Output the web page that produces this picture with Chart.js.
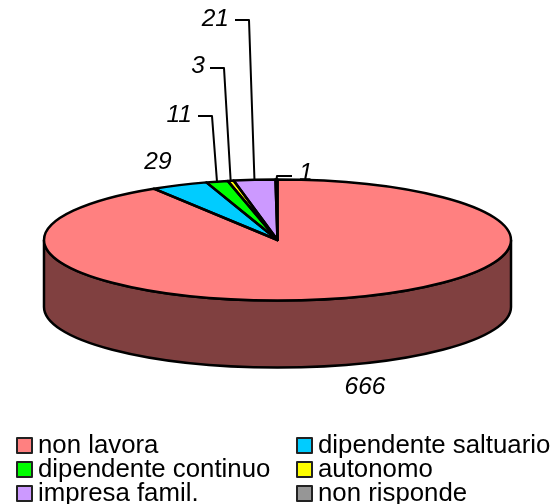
<!DOCTYPE html>
<html>
<head>
<meta charset="utf-8">
<script src="https://cdn.jsdelivr.net/npm/chart.js@4"></script>
<style>
body { margin: 0; background: #fff; }
canvas { display: block; }
</style>
</head>
<body>
<canvas id="torta" width="551" height="504"></canvas>
<script>
const categorie = ['non lavora', 'dipendente saltuario', 'dipendente continuo', 'autonomo', 'impresa famil.', 'non risponde'];
const valori = [666, 29, 11, 3, 21, 1];
const colori = ['#FF8080', '#00CCFF', '#00FF00', '#FFFF00', '#CC99FF', '#969696'];
const coloriScuri = ['#804040', '#006680', '#008000', '#808000', '#664D80', '#4B4B4B'];

// vista 3D: ellisse schiacciata + spessore
const schiacciamento = 60.5 / 233.5;
const centroY = 240;
const spessore = 67;

// posizione delle etichette e gomito delle linee guida
const etichette = [
    { x: 365, y: 387, align: 'center' },
    { x: 158, y: 162, align: 'center' },
    { x: 192, y: 115, align: 'right', gomito: [212, 116], fine: 198 },
    { x: 205, y: 66, align: 'right', gomito: [224, 68], fine: 210 },
    { x: 229, y: 19, align: 'right', gomito: [249, 20], fine: 235 },
    { x: 299, y: 173, align: 'left', gomito: [277, 176], fine: 292 }
];

const nero = '#000';

function bordoFetta(ctx, arc, yc) {
    ctx.beginPath();
    ctx.moveTo(arc.x, yc);
    ctx.ellipse(arc.x, yc, arc.outerRadius, arc.outerRadius * schiacciamento, 0, arc.startAngle, arc.endAngle);
    ctx.closePath();
}

const vista3d = {
    id: 'vista3d',
    beforeDatasetDraw(chart, args) {
        const ctx = chart.ctx;
        const fette = args.meta.data;
        // parete laterale, solo la meta' davanti
        fette.forEach((arc, i) => {
            const a0 = Math.max(arc.startAngle, 0);
            const a1 = Math.min(arc.endAngle, Math.PI);
            if (a1 <= a0) return;
            const r = arc.outerRadius;
            const ry = r * schiacciamento;
            ctx.beginPath();
            ctx.ellipse(arc.x, centroY, r, ry, 0, a0, a1);
            ctx.ellipse(arc.x, centroY + spessore, r, ry, 0, a1, a0, true);
            ctx.closePath();
            ctx.fillStyle = coloriScuri[i];
            ctx.fill();
            ctx.lineWidth = 2.5;
            ctx.strokeStyle = nero;
            ctx.stroke();
        });
        ctx.save();
        ctx.translate(0, centroY);
        ctx.scale(1, schiacciamento);
        ctx.translate(0, -fette[0].y);
    },
    afterDatasetDraw(chart, args) {
        const ctx = chart.ctx;
        ctx.restore();
        ctx.lineWidth = 2.5;
        ctx.strokeStyle = nero;
        ctx.lineJoin = 'round';
        args.meta.data.forEach(arc => {
            bordoFetta(ctx, arc, centroY);
            ctx.stroke();
        });
    },
    afterDraw(chart) {
        const ctx = chart.ctx;
        const fette = chart.getDatasetMeta(0).data;

        // etichette dei valori con linee guida
        ctx.font = 'italic 24.5px "Liberation Sans"';
        ctx.textBaseline = 'middle';
        ctx.fillStyle = nero;
        ctx.strokeStyle = nero;
        ctx.lineWidth = 2;
        etichette.forEach((e, i) => {
            ctx.textAlign = e.align;
            ctx.fillText(String(valori[i]), e.x, e.y);
            if (!e.gomito) return;
            const arc = fette[i];
            const medio = (arc.startAngle + arc.endAngle) / 2;
            const px = arc.x + arc.outerRadius * Math.cos(medio);
            const py = centroY + arc.outerRadius * schiacciamento * Math.sin(medio);
            ctx.beginPath();
            ctx.moveTo(px, py);
            ctx.lineTo(e.gomito[0], e.gomito[1]);
            ctx.lineTo(e.fine, e.gomito[1]);
            ctx.stroke();
        });

        // legenda su due colonne
        ctx.font = '25.8px "Liberation Sans"';
        ctx.textAlign = 'left';
        categorie.forEach((nome, i) => {
            const col = i % 2;
            const rig = Math.floor(i / 2);
            const x = col === 0 ? 17 : 297;
            const y = 438 + rig * 24;
            ctx.fillStyle = colori[i];
            ctx.fillRect(x, y, 15, 15);
            ctx.strokeStyle = '#222';
            ctx.lineWidth = 2;
            ctx.strokeRect(x, y, 15, 15);
            ctx.fillStyle = nero;
            ctx.fillText(nome, x + 21, y + 8);
        });
    }
};

new Chart(document.getElementById('torta').getContext('2d'), {
    type: 'pie',
    data: {
        labels: categorie,
        datasets: [{
            data: valori,
            backgroundColor: colori,
            borderWidth: 0,
            clip: false
        }]
    },
    options: {
        responsive: false,
        animation: false,
        layout: { padding: { left: 44, right: 40, top: 6, bottom: 31 } },
        plugins: {
            legend: { display: false },
            tooltip: { enabled: false }
        }
    },
    plugins: [vista3d]
});
</script>
</body>
</html>
